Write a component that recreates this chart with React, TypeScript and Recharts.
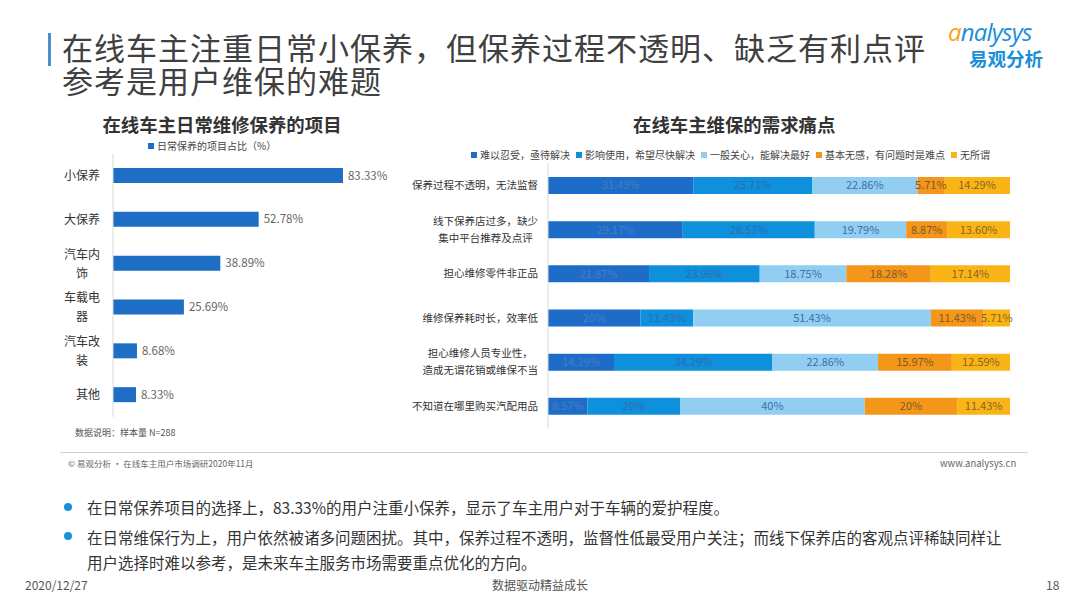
import { Bar, BarChart, LabelList, XAxis, YAxis } from 'recharts';

const itemNames = ['小保养', '大保养', '汽车内饰', '车载电器', '汽车改装', '其他'];
const itemShares = [83.33, 52.78, 38.89, 25.69, 8.68, 8.33];

const painPoints = [
  '保养过程不透明，无法监督',
  '线下保养店过多，缺少\n集中平台推荐及点评',
  '担心维修零件非正品',
  '维修保养耗时长，效率低',
  '担心维修人员专业性，\n造成无谓花销或维保不当',
  '不知道在哪里购买汽配用品',
];
const levelNames = [
  '难以忍受，亟待解决',
  '影响使用，希望尽快解决',
  '一般关心，能解决最好',
  '基本无感，有问题时是难点',
  '无所谓',
];
const levelColors = ['#1d6cc8', '#0e90dc', '#92cef1', '#f4961a', '#fbb416'];
const levelLabelColors = ['#4a7cc0', '#2e6cae', '#3f6fa8', '#7d5a28', '#846426'];
const unbearable = [31.43, 29.17, 21.87, 20, 14.29, 8.57];
const affectsUse = [25.71, 28.57, 23.96, 11.43, 34.29, 20];
const generalConcern = [22.86, 19.79, 18.75, 51.43, 22.86, 40];
const indifferentish = [5.71, 8.87, 18.28, 11.43, 15.97, 20];
const dontCare = [14.29, 13.6, 17.14, 5.71, 12.59, 11.43];

const leftData = itemNames.map((name, i) => ({ name, share: itemShares[i] }));
const rightData = painPoints.map((name, i) => ({
  name,
  s0: unbearable[i],
  s1: affectsUse[i],
  s2: generalConcern[i],
  s3: indifferentish[i],
  s4: dontCare[i],
}));

const FONT = '"Noto Sans CJK SC", "Noto Sans", sans-serif';
const pct = (v: any) => `${Number.isInteger(v) ? v : Number(v).toFixed(2)}%`;

function LeftTick({ x, y, payload }: any) {
  const s: string = payload.value;
  const fs = 12;
  const tx = x - 5;
  if (s.length <= 3) {
    return (
      <text x={tx} y={y} dy={4} textAnchor="end" fontSize={fs} fill="#333" fontFamily={FONT}>
        {s}
      </text>
    );
  }
  const cx = tx - (3 * fs) / 2;
  return (
    <g>
      <text x={cx} y={y - 9} dy={4} textAnchor="middle" fontSize={fs} fill="#333" fontFamily={FONT}>
        {s.slice(0, 3)}
      </text>
      <text x={cx} y={y + 10} dy={4} textAnchor="middle" fontSize={fs} fill="#333" fontFamily={FONT}>
        {s.slice(3)}
      </text>
    </g>
  );
}

function RightTick({ x, y, payload }: any) {
  const lines: string[] = String(payload.value).split('\n');
  const fs = 10.5;
  const tx = x - 2;
  if (lines.length === 1) {
    return (
      <text x={tx} y={y} dy={4} textAnchor="end" fontSize={fs} fill="#333" fontFamily={FONT}>
        {lines[0]}
      </text>
    );
  }
  const maxLen = Math.max(...lines.map((l) => l.length));
  const cx = tx - (maxLen * fs) / 2;
  return (
    <g>
      {lines.map((l, i) => (
        <text
          key={i}
          x={cx}
          y={y + (i - (lines.length - 1) / 2) * 17}
          dy={4}
          textAnchor="middle"
          fontSize={fs}
          fill="#333"
          fontFamily={FONT}
        >
          {l}
        </text>
      ))}
    </g>
  );
}

const abs = (left: number, top: number, extra: any = {}) => ({
  position: 'absolute' as const,
  left,
  top,
  whiteSpace: 'nowrap' as const,
  fontFamily: FONT,
  ...extra,
});

export default function App() {
  const keys = ['s0', 's1', 's2', 's3', 's4'];
  const titleStyle = { fontSize: 31, lineHeight: '31px', color: '#404040', letterSpacing: 1 };
  return (
    <div style={{ position: 'relative', width: 1080, height: 608, background: '#fff', overflow: 'hidden', fontFamily: FONT }}>
      <style>{`body{margin:0}`}</style>

      {/* header */}
      <div style={{ position: 'absolute', left: 48, top: 33, width: 3, height: 33, background: '#4a8fc8' }} />
      <div style={abs(62, 31, titleStyle)}>在线车主注重日常小保养，但保养过程不透明、缺乏有利点评</div>
      <div style={abs(62, 64, titleStyle)}>参考是用户维保的难题</div>
      <div style={abs(948, 18, { fontSize: 24, lineHeight: '28px', fontStyle: 'italic', color: '#1a8fd8', fontFamily: '"Open Sans", sans-serif', letterSpacing: -0.8 })}>
        <span style={{ color: '#f5a623' }}>a</span>nalysys
      </div>
      <div style={abs(969, 47, { fontSize: 18.5, lineHeight: '22px', fontWeight: 700, color: '#1a8fd8' })}>易观分析</div>

      {/* left chart */}
      <div style={abs(12, 111, { width: 420, textAlign: 'center', fontSize: 18.4, lineHeight: '26px', fontWeight: 700, color: '#333' })}>
        在线车主日常维修保养的项目
      </div>
      <div style={abs(148, 139, { display: 'flex', alignItems: 'center', fontSize: 10, lineHeight: '14px', color: '#444' })}>
        <span style={{ width: 6, height: 6, background: '#1e6ec6', marginRight: 3 }} />
        日常保养的项目占比（%）
      </div>
      <div style={{ position: 'absolute', left: 0, top: 0 }}>
        <BarChart
          width={420}
          height={440}
          layout="vertical"
          data={leftData}
          margin={{ top: 154, right: 31, bottom: 23, left: 0 }}
        >
          <XAxis type="number" domain={[0, 100]} hide />
          <YAxis
            type="category"
            dataKey="name"
            width={113}
            tick={<LeftTick />}
            tickLine={false}
            axisLine={{ stroke: '#d9d9d9' }}
          />
          <Bar dataKey="share" fill="#1e6ec6" barSize={15} isAnimationActive={false}>
            <LabelList
              dataKey="share"
              position="right"
              offset={5}
              formatter={pct}
              style={{ fontSize: 11.5, fill: '#666', fontFamily: FONT }}
            />
          </Bar>
        </BarChart>
      </div>
      <div style={abs(75, 426, { fontSize: 9, color: '#555' })}>数据说明：样本量 N=288</div>

      {/* right chart */}
      <div style={abs(633, 111, { fontSize: 18.4, lineHeight: '26px', fontWeight: 700, color: '#333' })}>在线车主维保的需求痛点</div>
      <div style={abs(471, 148, { display: 'flex', alignItems: 'center', fontSize: 10, lineHeight: '14px', color: '#444' })}>
        {levelNames.map((n, i) => (
          <span key={n} style={{ display: 'flex', alignItems: 'center', marginRight: 6 }}>
            <span style={{ width: 6, height: 6, background: levelColors[i], marginRight: 3 }} />
            {n}
          </span>
        ))}
      </div>
      <div style={{ position: 'absolute', left: 400, top: 0 }}>
        <BarChart
          width={680}
          height={440}
          layout="vertical"
          data={rightData}
          margin={{ top: 163, right: 70, bottom: 12, left: 0 }}
        >
          <XAxis type="number" domain={[0, 100]} hide />
          <YAxis
            type="category"
            dataKey="name"
            width={148}
            tick={<RightTick />}
            tickLine={false}
            axisLine={{ stroke: '#d9d9d9' }}
          />
          {keys.map((k, i) => (
            <Bar key={k} dataKey={k} stackId="a" fill={levelColors[i]} barSize={17} isAnimationActive={false} name={levelNames[i]}>
              <LabelList
                dataKey={k}
                position="center"
                formatter={pct}
                style={{ fontSize: 11, fill: levelLabelColors[i], fontFamily: FONT }}
              />
            </Bar>
          ))}
        </BarChart>
      </div>

      {/* source row */}
      <div style={{ position: 'absolute', left: 60, top: 452, width: 968, height: 1, background: '#d0d0d0' }} />
      <div style={abs(68, 457, { fontSize: 8.5, color: '#666' })}>© 易观分析 · 在线车主用户市场调研2020年11月</div>
      <div style={abs(940, 456, { fontSize: 9.5, color: '#666' })}>www.analysys.cn</div>

      {/* bullets */}
      <div style={{ position: 'absolute', left: 64, top: 503, width: 8, height: 8, borderRadius: 4, background: '#1a8fd8' }} />
      <div style={abs(87, 496, { fontSize: 15.5, lineHeight: '22px', color: '#333' })}>
        在日常保养项目的选择上，83.33%的用户注重小保养，显示了车主用户对于车辆的爱护程度。
      </div>
      <div style={{ position: 'absolute', left: 64, top: 532, width: 8, height: 8, borderRadius: 4, background: '#1a8fd8' }} />
      <div style={abs(87, 525, { fontSize: 15.5, color: '#333', lineHeight: '25px' })}>
        在日常维保行为上，用户依然被诸多问题困扰。其中，保养过程不透明，监督性低最受用户关注；而线下保养店的客观点评稀缺同样让
        <br />
        用户选择时难以参考，是未来车主服务市场需要重点优化的方向。
      </div>

      {/* footer */}
      <div style={abs(25, 576, { fontSize: 12, color: '#555' })}>2020/12/27</div>
      <div style={abs(492, 576, { fontSize: 12, color: '#555' })}>数据驱动精益成长</div>
      <div style={abs(1046, 576, { fontSize: 12, color: '#555' })}>18</div>
    </div>
  );
}
